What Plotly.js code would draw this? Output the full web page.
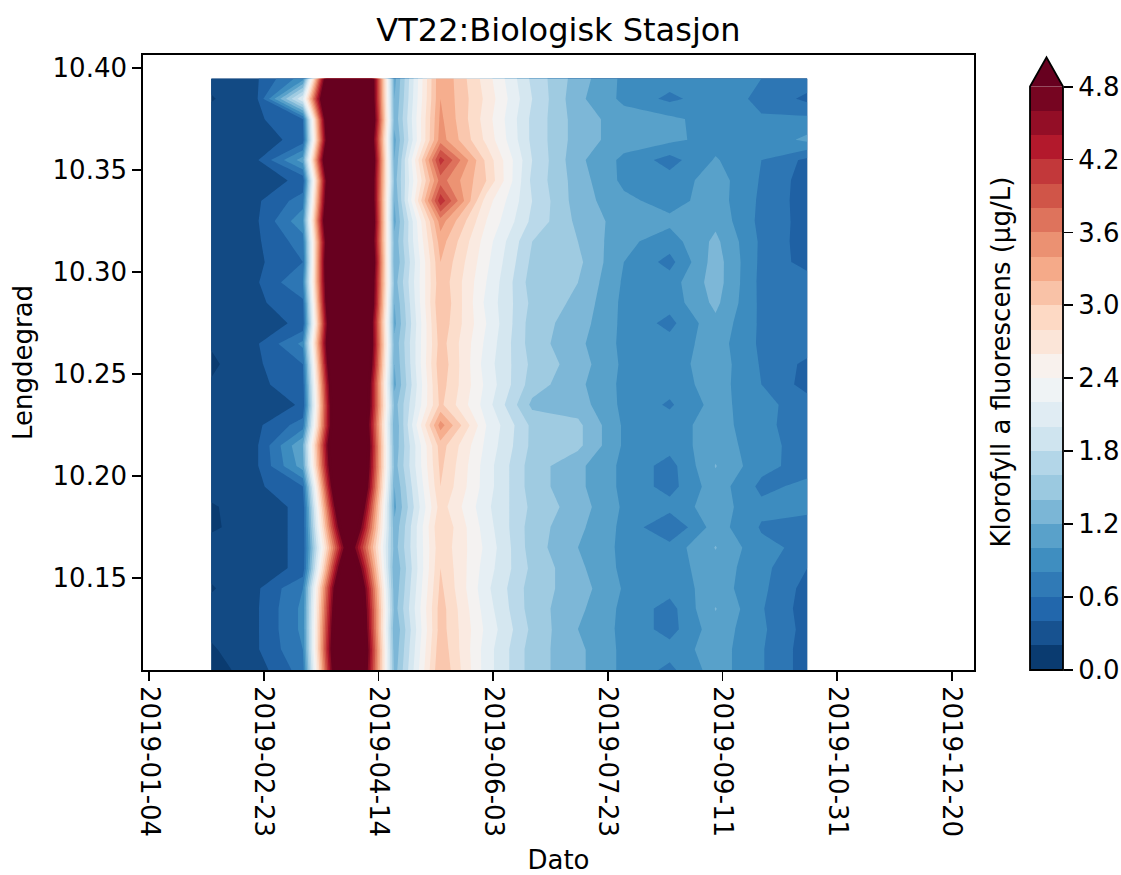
<!DOCTYPE html>
<html>
<head>
<meta charset="utf-8">
<script src="https://cdn.plot.ly/plotly-3.0.1.min.js"></script>
<style>
  html, body { margin: 0; padding: 0; background: #fff; }
  #chart { width: 1121px; height: 875px; }
</style>
</head>
<body>
<div id="chart"></div>
<script>
// Sampling dates along the transect (one column of the grid per date)
const sampleDates = ['2019-01-31', '2019-02-20', '2019-03-12', '2019-04-01', '2019-04-21',
  '2019-05-11', '2019-05-31', '2019-06-20', '2019-07-10', '2019-07-30',
  '2019-08-19', '2019-09-08', '2019-09-28', '2019-10-18'];

// Longitudes of the grid rows, south to north
const longitudes = [10.105, 10.115, 10.125, 10.135, 10.145, 10.155, 10.165, 10.175, 10.185, 10.195,
  10.205, 10.215, 10.225, 10.235, 10.245, 10.255, 10.265, 10.275, 10.285, 10.295,
  10.305, 10.315, 10.325, 10.335, 10.345, 10.355, 10.365, 10.375, 10.385, 10.395];

// Chlorophyll a fluorescence (µg/L) per sampling date, ordered as the longitudes above
const chl_0131 = [0.12, 0.17, 0.25, 0.27, 0.18, 0.26, 0.28, 0.17, 0.18, 0.27, 0.29, 0.30, 0.28, 0.27, 0.22, 0.16, 0.22, 0.28, 0.30, 0.29, 0.31, 0.30, 0.28, 0.30, 0.29, 0.30, 0.28, 0.30, 0.18, 0.27];
const chl_0220 = [0.30, 0.38, 0.38, 0.38, 0.37, 0.30, 0.30, 0.30, 0.30, 0.36, 0.38, 0.38, 0.36, 0.30, 0.36, 0.37, 0.38, 0.30, 0.36, 0.38, 0.36, 0.37, 0.38, 0.37, 0.30, 0.38, 0.30, 0.36, 0.38, 0.38];
const chl_0312 = [0.70, 0.80, 0.85, 0.85, 0.80, 0.45, 0.45, 0.45, 0.45, 0.60, 1.10, 1.20, 0.70, 0.42, 0.50, 0.60, 0.85, 0.45, 0.55, 0.80, 0.60, 0.70, 0.95, 0.70, 0.45, 1.10, 0.48, 0.60, 2.00, 0.90];
const chl_0401 = [6.6, 6.8, 6.6, 6.4, 6.2, 5.6, 4.9, 5.6, 6.2, 6.8, 7.0, 7.2, 7.0, 7.2, 7.4, 7.8, 8.0, 8.0, 8.4, 8.4, 8.8, 8.4, 8.8, 8.5, 8.4, 8.8, 8.4, 8.8, 8.5, 8.5];
const chl_0421 = [1.30, 1.25, 1.20, 1.30, 1.25, 1.20, 1.30, 1.25, 1.15, 1.20, 1.30, 1.25, 1.20, 1.30, 1.15, 1.20, 1.25, 1.15, 1.20, 1.30, 1.20, 1.25, 1.15, 1.20, 1.30, 1.20, 1.15, 1.25, 1.20, 1.15];
const chl_0511 = [3.00, 2.95, 2.90, 2.90, 2.85, 2.80, 2.75, 2.80, 2.70, 2.80, 2.85, 2.90, 3.30, 2.85, 2.90, 2.95, 2.90, 2.95, 3.00, 2.95, 3.00, 3.10, 3.30, 3.95, 3.50, 3.90, 3.30, 3.25, 3.20, 3.20];
const chl_0531 = [2.10, 2.10, 2.15, 2.10, 2.05, 2.10, 2.15, 2.10, 2.05, 2.10, 2.10, 2.15, 2.20, 2.10, 2.15, 2.10, 2.15, 2.20, 2.15, 2.20, 2.25, 2.30, 2.40, 2.50, 2.80, 2.75, 2.55, 2.50, 2.55, 2.50];
const chl_0620 = [1.50, 1.50, 1.55, 1.50, 1.50, 1.55, 1.50, 1.50, 1.55, 1.50, 1.50, 1.55, 1.55, 1.35, 1.50, 1.55, 1.50, 1.50, 1.55, 1.50, 1.55, 1.60, 1.75, 1.80, 1.75, 1.80, 1.75, 1.75, 1.80, 1.75];
const chl_0710 = [1.25, 1.25, 1.20, 1.25, 1.30, 1.25, 1.20, 1.25, 1.30, 1.25, 1.25, 1.45, 1.45, 1.30, 1.25, 1.30, 1.25, 1.30, 1.35, 1.40, 1.45, 1.40, 1.35, 1.30, 1.30, 1.25, 1.30, 1.30, 1.25, 1.30];
const chl_0730 = [0.95, 0.95, 0.95, 0.95, 0.98, 0.95, 0.95, 0.95, 0.97, 0.95, 0.95, 0.97, 0.97, 0.95, 0.95, 0.96, 0.95, 0.95, 0.95, 0.97, 1.00, 1.05, 1.10, 1.05, 0.95, 0.95, 1.10, 1.10, 0.95, 0.95];
const chl_0819 = [0.75, 0.88, 0.72, 0.72, 0.88, 0.90, 0.88, 0.60, 0.88, 0.72, 0.72, 0.88, 0.90, 0.77, 0.88, 0.90, 0.88, 0.74, 0.88, 0.90, 0.73, 0.90, 1.05, 0.92, 0.88, 0.72, 1.05, 1.05, 0.75, 0.90];
const chl_0908 = [1.10, 1.10, 1.12, 1.21, 1.10, 1.12, 1.21, 1.10, 1.10, 1.12, 1.21, 1.12, 1.10, 1.08, 1.10, 1.12, 1.10, 1.15, 1.25, 1.30, 1.30, 1.25, 1.15, 1.10, 1.10, 1.02, 0.92, 0.90, 0.92, 0.92];
const chl_0928 = [0.82, 0.82, 0.84, 0.82, 0.85, 0.86, 0.85, 0.78, 0.85, 0.75, 0.86, 0.88, 0.85, 0.86, 0.80, 0.78, 0.76, 0.76, 0.75, 0.74, 0.75, 0.76, 0.74, 0.76, 0.78, 0.80, 0.85, 0.82, 0.75, 0.80];
const chl_1018 = [0.50, 0.50, 0.52, 0.50, 0.52, 0.60, 0.75, 0.72, 0.85, 0.85, 0.72, 0.70, 0.70, 0.70, 0.52, 0.55, 0.72, 0.75, 0.72, 0.70, 0.52, 0.50, 0.52, 0.50, 0.50, 0.55, 1.05, 0.85, 0.55, 0.72];

// Date tick labels, longitude ticks and colour-bar levels
const dateTicks = ['2019-01-04', '2019-02-23', '2019-04-14', '2019-06-03', '2019-07-23', '2019-09-11', '2019-10-31', '2019-12-20'];
const lonTicks = [10.15, 10.20, 10.25, 10.30, 10.35, 10.40];
const levels = [0.0, 0.2, 0.4, 0.6, 0.8, 1.0, 1.2, 1.4, 1.6, 1.8, 2.0, 2.2, 2.4, 2.6, 2.8, 3.0, 3.2, 3.4, 3.6, 3.8, 4.0, 4.2, 4.4, 4.6, 4.8];
const cbTicks = [0.0, 0.6, 1.2, 1.8, 2.4, 3.0, 3.6, 4.2, 4.8];

// ---- grid (rows = longitude, columns = date) ----
const columns = [chl_0131, chl_0220, chl_0312, chl_0401, chl_0421, chl_0511, chl_0531,
  chl_0620, chl_0710, chl_0730, chl_0819, chl_0908, chl_0928, chl_1018];
const z = longitudes.map((_, r) => columns.map(col => col[r]));

// ---- RdBu reversed, sampled like a 256-entry lookup table ----
const RDBU_R = ['#053061', '#2166ac', '#4393c3', '#92c5de', '#d1e5f0', '#f7f7f7',
  '#fddbc7', '#f4a582', '#d6604d', '#b2182b', '#67001f'];
function hexToRgb(h) {
  return [parseInt(h.slice(1, 3), 16), parseInt(h.slice(3, 5), 16), parseInt(h.slice(5, 7), 16)];
}
function rdbuR(t) {
  const i = Math.min(Math.floor(t * 256), 255);
  const x = i / 255 * (RDBU_R.length - 1);
  const k = Math.min(Math.floor(x), RDBU_R.length - 2);
  const f = x - k;
  const a = hexToRgb(RDBU_R[k]), b = hexToRgb(RDBU_R[k + 1]);
  const c = a.map((v, j) => Math.round(v + (b[j] - v) * f));
  return 'rgb(' + c.join(',') + ')';
}
const vmin = levels[0], vmax = levels[levels.length - 1];
const nBands = levels.length - 1;
const bandColors = [];
for (let k = 0; k < nBands; k++) {
  const mid = (levels[k] + levels[k + 1]) / 2;
  bandColors.push(rdbuR((mid - vmin) / (vmax - vmin)));
}
const overColor = rdbuR(1.0);

// Contour fill colours: Plotly samples the scale at (k+1)/(nLevels) for band k,
// 0 for values below the first level and 1 for values above the last one.
const nLev = levels.length;
const contourScale = [[0, bandColors[0]]];
for (let k = 0; k < nBands; k++) contourScale.push([(k + 1) / nLev, bandColors[k]]);
contourScale.push([(nLev - 0.5) / nLev, overColor]);
contourScale.push([1, overColor]);

// Stepped scale for the colour bar strip
const stepScale = [];
for (let k = 0; k < nBands; k++) {
  stepScale.push([k / nBands, bandColors[k]]);
  stepScale.push([(k + 1) / nBands, bandColors[k]]);
}
const bandMids = levels.slice(0, -1).map((v, k) => (v + levels[k + 1]) / 2);

const step = levels[1] - levels[0];
const contourTrace = {
  type: 'contour',
  x: sampleDates,
  y: longitudes,
  z: z,
  autocontour: false,
  contours: { start: vmin, end: vmax, size: step, coloring: 'fill', showlines: false },
  line: { width: 0, smoothing: 0 },
  colorscale: contourScale,
  zauto: false, zmin: vmin, zmax: vmax,
  showscale: false,
  hoverinfo: 'skip'
};

const barTrace = {
  type: 'heatmap',
  x: [0],
  y: bandMids,
  z: bandMids.map(v => [v]),
  xaxis: 'x2', yaxis: 'y2',
  colorscale: stepScale,
  zmin: vmin, zmax: vmax,
  zsmooth: false,
  showscale: false,
  hoverinfo: 'skip'
};

// ---- geometry ----
const W = 1121, H = 875;
const M = { l: 143, r: 58, t: 55, b: 205 };
const plotW = W - M.l - M.r;
const mainRight = 831 / plotW;
const barLeft = 887 / plotW;
const cbTop = 5.06;          // colour-bar axis range top (room for the extension triangle)
const apex = vmax * 1.05;    // tip of the "max" extension
const fy = v => v / cbTop;   // y2 value -> paper fraction (y2 domain is [0, 1])

const FONT = 'DejaVu Sans';
const black = '#000000';

const layout = {
  width: W, height: H,
  margin: { l: M.l, r: M.r, t: M.t, b: M.b, pad: 0 },
  paper_bgcolor: '#ffffff',
  plot_bgcolor: '#ffffff',
  font: { family: FONT, size: 26, color: black },
  showlegend: false,
  title: {
    text: 'VT22:Biologisk Stasjon',
    font: { family: FONT, size: 32, color: black },
    xref: 'paper', x: mainRight / 2, xanchor: 'center',
    yref: 'container', y: 1 - 30 / H, yanchor: 'middle'
  },
  xaxis: {
    domain: [0, mainRight],
    type: 'date',
    range: ['2019-01-01 06:00', '2019-12-29 17:00'],
    tickmode: 'array', tickvals: dateTicks, ticktext: dateTicks,
    tickangle: 90,
    ticks: 'outside', ticklen: 9, tickwidth: 1.8, tickcolor: black,
    showline: true, mirror: true, linecolor: black, linewidth: 1.8,
    showgrid: false, zeroline: false, automargin: false,
    title: { text: 'Dato', standoff: 16, font: { family: FONT, size: 26 } }
  },
  yaxis: {
    domain: [0, 1],
    range: [10.105, 10.4065],
    tickmode: 'array', tickvals: lonTicks, ticktext: lonTicks.map(v => v.toFixed(2)),
    ticks: 'outside', ticklen: 9, tickwidth: 1.8, tickcolor: black,
    showline: true, mirror: true, linecolor: black, linewidth: 1.8,
    showgrid: false, zeroline: false, automargin: false,
    title: { text: 'Lengdegrad', standoff: 12, font: { family: FONT, size: 26 } }
  },
  xaxis2: {
    domain: [barLeft, 1], anchor: 'y2', range: [-0.5, 0.5],
    visible: false, showgrid: false, zeroline: false, fixedrange: true
  },
  yaxis2: {
    domain: [0, 1], anchor: 'x2', side: 'right',
    range: [0, cbTop],
    tickmode: 'array', tickvals: cbTicks, ticktext: cbTicks.map(v => v.toFixed(1)),
    ticks: 'outside', ticklen: 9, tickwidth: 1.8, tickcolor: black,
    showline: false, showgrid: false, zeroline: false, automargin: false
  },
  shapes: [
    { // "max" extension triangle
      type: 'path', xref: 'paper', yref: 'paper', layer: 'above',
      path: `M ${barLeft},${fy(vmax)} L ${(barLeft + 1) / 2},${fy(apex)} L 1,${fy(vmax)} Z`,
      fillcolor: overColor, line: { width: 0 }
    },
    { // colour-bar outline
      type: 'path', xref: 'paper', yref: 'paper', layer: 'above',
      path: `M ${barLeft},0 L ${barLeft},${fy(vmax)} L ${(barLeft + 1) / 2},${fy(apex)} L 1,${fy(vmax)} L 1,0 Z`,
      fillcolor: 'rgba(0,0,0,0)', line: { color: black, width: 1.8 }
    }
  ],
  annotations: [
    {
      text: 'Klorofyll a fluorescens (µg/L)',
      xref: 'paper', x: (1000 - M.l) / plotW, xanchor: 'center',
      yref: 'y2', y: 2.53, yanchor: 'middle',
      textangle: -90, showarrow: false,
      font: { family: FONT, size: 26, color: black }
    }
  ]
};

Plotly.newPlot('chart', [contourTrace, barTrace], layout, { displayModeBar: false, staticPlot: true });
</script>
</body>
</html>
